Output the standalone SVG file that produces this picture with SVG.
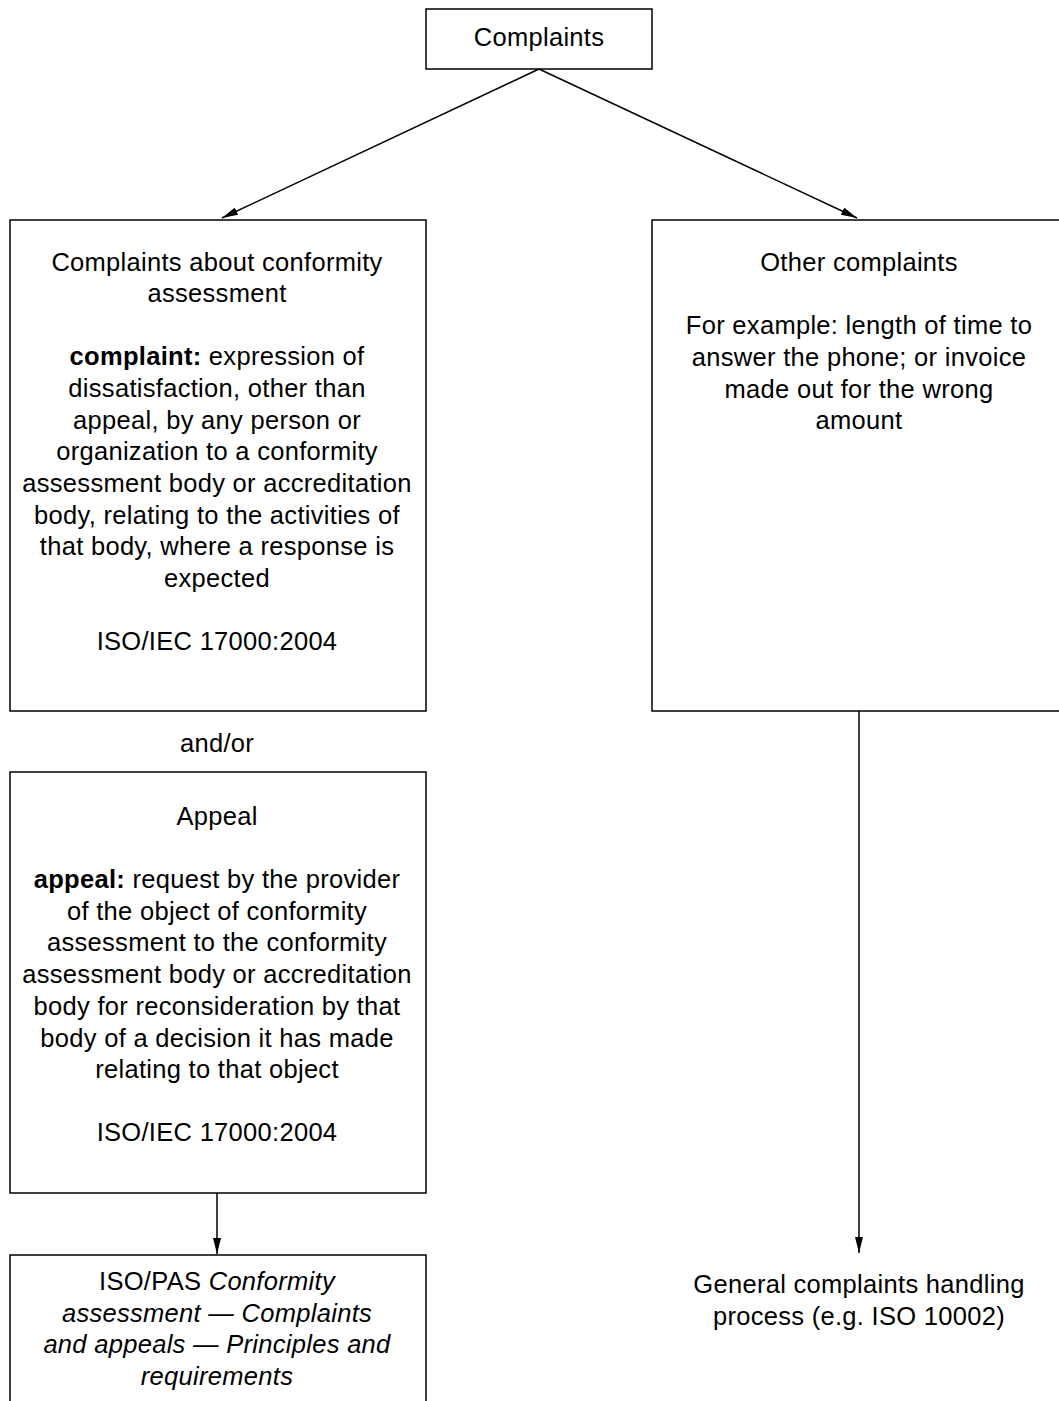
<svg xmlns="http://www.w3.org/2000/svg" width="1059" height="1401" viewBox="0 0 1059 1401">
<style>
.box{fill:#fff;stroke:#000;stroke-width:1.5}
.t{font-family:"Liberation Sans",Arial,sans-serif;font-size:25.5px;letter-spacing:0.3px;fill:#000;text-anchor:middle}
.b{font-weight:bold}
.i{font-style:italic}
.c{stroke:#000;stroke-width:1.5;fill:none}
</style>
<defs>
<marker id="ah" viewBox="0 0 16 8" refX="16" refY="4" markerWidth="16" markerHeight="8" markerUnits="userSpaceOnUse" orient="auto">
<path d="M0,0 L16,4 L0,8 Z" fill="#000"/>
</marker>
</defs>
<rect width="1059" height="1401" fill="#fff"/>
<g id="connectors">
<line class="c" x1="539" y1="69" x2="222" y2="218" marker-end="url(#ah)"/>
<line class="c" x1="539" y1="69" x2="857" y2="218" marker-end="url(#ah)"/>
<line class="c" x1="217" y1="1193" x2="217" y2="1254" marker-end="url(#ah)"/>
<line class="c" x1="859" y1="711" x2="859" y2="1253" marker-end="url(#ah)"/>
</g>
<g id="complaints">
<rect class="box" x="426" y="9" width="226" height="60"/>
<text class="t" x="539" y="46">Complaints</text>
</g>
<g id="conformity">
<rect class="box" x="10" y="220" width="416" height="491"/>
<text class="t" x="217" y="271">Complaints about conformity</text>
<text class="t" x="217" y="302">assessment</text>
<text class="t" x="217" y="365"><tspan class="b">complaint:</tspan> expression of</text>
<text class="t" x="217" y="397">dissatisfaction, other than</text>
<text class="t" x="217" y="429">appeal, by any person or</text>
<text class="t" x="217" y="460">organization to a conformity</text>
<text class="t" x="217" y="492">assessment body or accreditation</text>
<text class="t" x="217" y="524">body, relating to the activities of</text>
<text class="t" x="217" y="555">that body, where a response is</text>
<text class="t" x="217" y="587">expected</text>
<text class="t" x="217" y="650">ISO/IEC 17000:2004</text>
</g>
<g id="other">
<rect class="box" x="652" y="220" width="414" height="491"/>
<text class="t" x="859" y="271">Other complaints</text>
<text class="t" x="859" y="334">For example: length of time to</text>
<text class="t" x="859" y="366">answer the phone; or invoice</text>
<text class="t" x="859" y="398">made out for the wrong</text>
<text class="t" x="859" y="429">amount</text>
</g>
<g id="andor">
<text class="t" x="217" y="752">and/or</text>
</g>
<g id="appeal">
<rect class="box" x="10" y="772" width="416" height="421"/>
<text class="t" x="217" y="825">Appeal</text>
<text class="t" x="217" y="888"><tspan class="b">appeal:</tspan> request by the provider</text>
<text class="t" x="217" y="920">of the object of conformity</text>
<text class="t" x="217" y="951">assessment to the conformity</text>
<text class="t" x="217" y="983">assessment body or accreditation</text>
<text class="t" x="217" y="1015">body for reconsideration by that</text>
<text class="t" x="217" y="1047">body of a decision it has made</text>
<text class="t" x="217" y="1078">relating to that object</text>
<text class="t" x="217" y="1141">ISO/IEC 17000:2004</text>
</g>
<g id="pas">
<rect class="box" x="10" y="1255" width="416" height="160"/>
<text class="t" x="217" y="1290">ISO/PAS <tspan class="i">Conformity</tspan></text>
<text class="t i" x="217" y="1322">assessment — Complaints</text>
<text class="t i" x="217" y="1353">and appeals — Principles and</text>
<text class="t i" x="217" y="1385">requirements</text>
</g>
<g id="general">
<text class="t" x="859" y="1293">General complaints handling</text>
<text class="t" x="859" y="1325">process (e.g. ISO 10002)</text>
</g>
</svg>
